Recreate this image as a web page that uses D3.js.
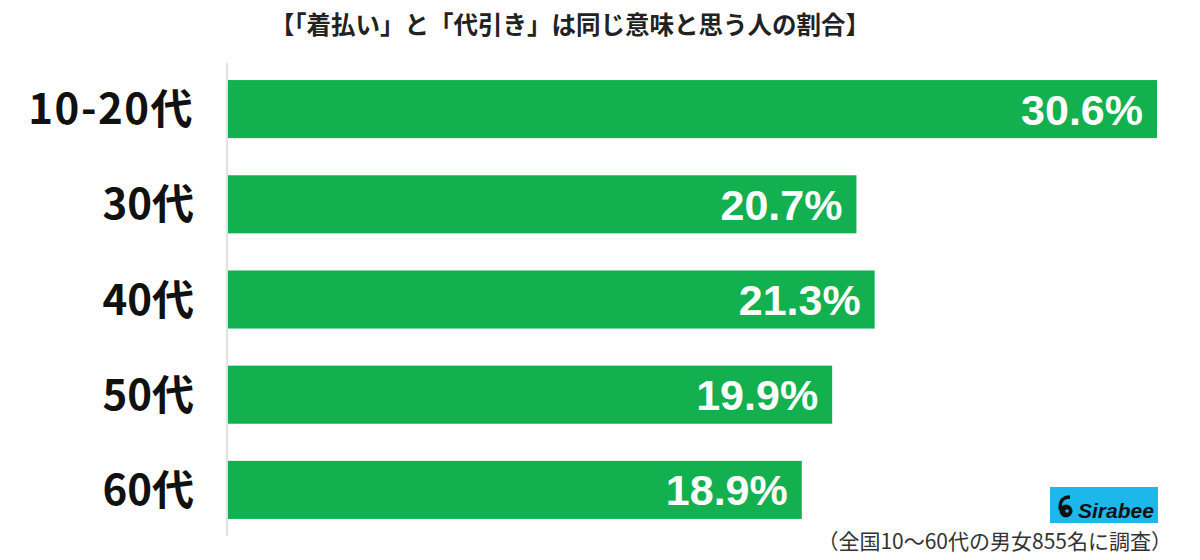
<!DOCTYPE html>
<html><head><meta charset="utf-8">
<script src="https://cdn.jsdelivr.net/npm/d3@7"></script>
<style>body{margin:0;background:#fff}svg{display:block}</style>
</head><body>
<svg id="c" width="1200" height="560"></svg>
<script>
const categories = ["10-20代","30代","40代","50代","60代"];
const values = [30.6, 20.7, 21.3, 19.9, 18.9];
const valueLabels = ["30.6%","20.7%","21.3%","19.9%","18.9%"];
const title = "【「着払い」と「代引き」は同じ意味と思う人の割合】";
const footnote = "（全国10～60代の男女855名に調査）";

const svg = d3.select("#c");
const font = "'Noto Sans CJK JP','Noto Sans',sans-serif";
const x = d3.scaleLinear().domain([0, 30.6]).range([228, 1157]);
const y = d3.scaleBand().domain(categories).range([61.5, 537.5]).paddingInner(0.39).paddingOuter(0.195);

svg.append("text").attr("x", 570).attr("y", 34).attr("text-anchor","middle")
  .attr("font-family", font).attr("font-weight","bold").attr("font-size",24.5).attr("fill","#222").text(title);

svg.append("line").attr("x1",227).attr("x2",227).attr("y1",63).attr("y2",536)
  .attr("stroke","#d9d9d9").attr("stroke-width",1.5);

const data = categories.map((c,i)=>({c, v: values[i], l: valueLabels[i]}));

svg.selectAll("rect.bar").data(data).join("rect").attr("class","bar")
  .attr("x", x(0)).attr("y", d=>y(d.c)).attr("width", d=>x(d.v)-x(0)).attr("height", y.bandwidth())
  .attr("fill","#13b050");

svg.selectAll("text.cat").data(data).join("text").attr("class","cat")
  .attr("x", 194).attr("y", d=>y(d.c)+y.bandwidth()/2).attr("dy","0.36em").attr("text-anchor","end")
  .attr("font-family", font).attr("font-weight","bold").attr("font-size",42).attr("letter-spacing", d=>d.c.length>3?1.5:0)
  .attr("fill","#111").text(d=>d.c);

svg.selectAll("text.val").data(data).join("text").attr("class","val")
  .attr("x", d=>x(d.v)-14).attr("y", d=>y(d.c)+y.bandwidth()/2).attr("dy","0.36em").attr("text-anchor","end")
  .attr("font-family", "'Liberation Sans',Arial,sans-serif").attr("font-weight","bold").attr("font-size",43).attr("fill","#fff").text(d=>d.l);

// logo
const lg = svg.append("g");
lg.append("rect").attr("x",1050).attr("y",487).attr("width",108).attr("height",36).attr("fill","#1cb8ec");
lg.append("circle").attr("cx",1066).attr("cy",511).attr("r",6.5).attr("fill","#111");
lg.append("path").attr("d","M1060.5,510 C1059,501 1063,497 1070,497").attr("stroke","#111").attr("stroke-width",3.5).attr("fill","none");
lg.append("circle").attr("cx",1067).attr("cy",511).attr("r",1.8).attr("fill","#1cb8ec");
lg.append("text").attr("x",1078).attr("y",518).attr("font-family","'Liberation Sans',Arial,sans-serif")
  .attr("font-weight","bold").attr("font-style","italic").attr("font-size",21).attr("fill","#111").text("Sirabee");

svg.append("text").attr("x",1172).attr("y",549).attr("text-anchor","end")
  .attr("font-family", font).attr("font-size",21).attr("fill","#333").text(footnote);
</script>
</body></html>
